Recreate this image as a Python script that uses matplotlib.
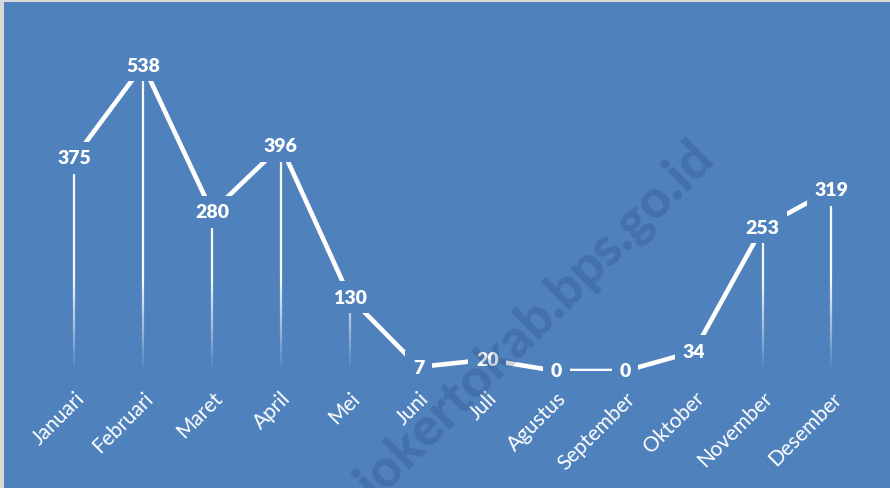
import numpy as np
import matplotlib
matplotlib.use('Agg')
import matplotlib.pyplot as plt
from matplotlib.collections import LineCollection

bulan = ['Januari', 'Februari', 'Maret', 'April', 'Mei', 'Juni', 'Juli',
         'Agustus', 'September', 'Oktober', 'November', 'Desember']
jumlah = [375, 538, 280, 396, 130, 7, 20, 0, 0, 34, 253, 319]

bg = '#4F81BD'

plt.rcParams['font.family'] = ['Lato', 'DejaVu Sans']

fig = plt.figure(figsize=(8.9, 4.89), dpi=100)
fig.patch.set_facecolor('#D9D9D9')
# blue chart area inside the thin gray border
fig.patches.append(plt.Rectangle((0.0045, 0), 0.9955, 0.994, transform=fig.transFigure,
                                 facecolor=bg, edgecolor='none', zorder=-5))

ax = fig.add_axes([0.0449, 0.2393, 0.928, 0.6975])
ax.set_facecolor('none')
ax.set_zorder(2)
x = np.arange(len(bulan))

# drop lines, fading out towards the bottom
segs = []
cols = []
for xi, v in zip(x, jumlah):
    if v <= 0:
        continue
    ys = np.linspace(0, v, 60)
    for a, b in zip(ys[:-1], ys[1:]):
        segs.append([(xi, a), (xi, b)])
        al = min(1.0, ((a + b) / 2) / 160.0) * 0.95
        cols.append((1, 1, 1, al))
ax.add_collection(LineCollection(segs, colors=cols, linewidths=1.6, zorder=2))

ax.plot(x, jumlah, color='white', linewidth=3.3, solid_capstyle='butt', zorder=3)

for xi, v in zip(x, jumlah):
    ax.text(xi, v, str(v), ha='center', va='center', color='white', fontsize=14,
            fontweight='heavy', zorder=5, clip_on=False,
            bbox=dict(boxstyle='square,pad=0.4', fc=bg, ec='none'))

ax.set_xlim(-0.5, len(bulan) - 0.5)
ax.set_ylim(0, 600)
ax.set_xticks(x)
ax.set_xticklabels(bulan, rotation=45, ha='right', va='top', rotation_mode='anchor',
                   color='white', fontsize=15)
ax.tick_params(axis='x', length=0, pad=12)
ax.set_yticks([])
for s in ax.spines.values():
    s.set_visible(False)

# watermark on top of everything
wm = fig.text(0.792, 0.695, 'mojokertokab.bps.go.id', rotation=45, ha='right', va='center',
              rotation_mode='anchor', fontsize=38, fontweight='black', color='#1F3864',
              alpha=0.22, zorder=10)

fig.savefig('out.png', dpi=100, facecolor=fig.get_facecolor())
